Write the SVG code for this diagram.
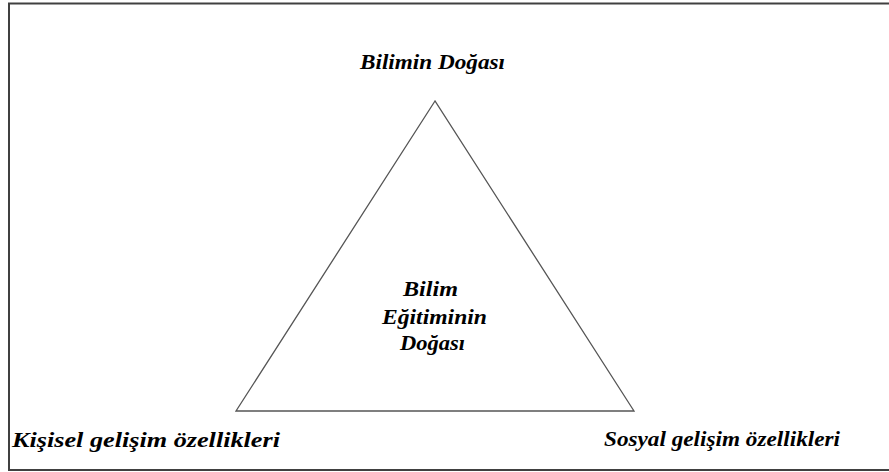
<svg xmlns="http://www.w3.org/2000/svg" width="889" height="472" viewBox="0 0 889 472">
<style>
.t{font-family:"Liberation Serif","Times New Roman",serif;font-weight:bold;font-style:italic;font-size:20px;fill:#000}
</style>
<rect x="0" y="0" width="889" height="472" fill="#fff"/>
<rect id="frame" x="9" y="3.5" width="890" height="466.5" fill="none" stroke="#404040" stroke-width="2"/>
<g id="connectors">
<polygon points="435,101 236,411 634,411" fill="none" stroke="#555" stroke-width="1.3"/>
</g>
<g id="top"><text class="t" x="360" y="69" textLength="145" lengthAdjust="spacingAndGlyphs">Bilimin Doğası</text></g>
<g id="left"><text class="t" x="12" y="447" textLength="268" lengthAdjust="spacingAndGlyphs">Kişisel gelişim özellikleri</text></g>
<g id="right"><text class="t" x="604" y="446" textLength="236" lengthAdjust="spacingAndGlyphs">Sosyal gelişim özellikleri</text></g>
<g id="center">
<text class="t" x="403" y="296" textLength="55" lengthAdjust="spacingAndGlyphs">Bilim</text>
<text class="t" x="382" y="324" textLength="105" lengthAdjust="spacingAndGlyphs">Eğitiminin</text>
<text class="t" x="400" y="350" textLength="65" lengthAdjust="spacingAndGlyphs">Doğası</text>
</g>
</svg>
